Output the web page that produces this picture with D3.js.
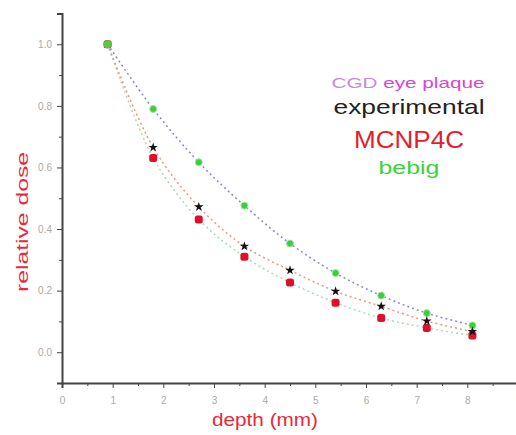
<!DOCTYPE html>
<html>
<head>
<meta charset="utf-8">
<script src="https://cdn.jsdelivr.net/npm/d3@7"></script>
<style>
  body { margin: 0; background: #fff; }
  svg { display: block; font-family: "Liberation Sans", Arial, sans-serif; }
  .axis path, .axis line { stroke: #444; }
  .axis text { fill: #aaa; font-size: 10px; }
</style>
</head>
<body>
<div id="chart"></div>
<script>
// depth (mm) of each measurement
const depth = [0.9, 1.8, 2.7, 3.6, 4.5, 5.4, 6.3, 7.2, 8.1];
// relative dose per series
const bebig = [1.0, 0.79, 0.617, 0.476, 0.353, 0.257, 0.184, 0.127, 0.087];
const experimental = [1.0, 0.665, 0.472, 0.344, 0.266, 0.198, 0.149, 0.101, 0.067];
const mcnp4c = [1.0, 0.631, 0.431, 0.31, 0.226, 0.161, 0.111, 0.079, 0.054];

const xTicks = [0, 1, 2, 3, 4, 5, 6, 7, 8, 9];
const xMinor = [0.5, 1.5, 2.5, 3.5, 4.5, 5.5, 6.5, 7.5, 8.5];
const yTicks = [0.0, 0.2, 0.4, 0.6, 0.8, 1.0];
const yMinor = [0.1, 0.3, 0.5, 0.7, 0.9, 1.1];

const legendLabels = ["experimental", "MCNP4C", "bebig"];

let width = 516, height = 435;

let svg = d3.select("#chart")
    .append("svg")
    .attr("width", width)
    .attr("height", height);

let xScale = d3.scaleLinear().domain([0, 9]).range([62, 518]);
let yScale = d3.scaleLinear().domain([-0.1, 1.1]).range([383, 13.5]);

// dotted fit-like lines
let line = d3.line()
    .x(d => xScale(d[0]))
    .y(d => yScale(d[1]))
    .curve(d3.curveCatmullRom);

function series(vals) {
    return depth.map((d, i) => [d, vals[i]]);
}

svg.append("path")
    .attr("fill", "none")
    .attr("stroke", "#a8dcb4")
    .attr("stroke-width", 1.5)
    .attr("stroke-dasharray", "2,3")
    .attr("d", line(series(mcnp4c)));

svg.append("path")
    .attr("fill", "none")
    .attr("stroke", "#f0967a")
    .attr("stroke-width", 1.5)
    .attr("stroke-dasharray", "2,3")
    .attr("d", line(series(experimental)));

svg.append("path")
    .attr("fill", "none")
    .attr("stroke", "#8a8ad0")
    .attr("stroke-width", 1.5)
    .attr("stroke-dasharray", "2,3")
    .attr("d", line(series(bebig)));

// axes
let xAxis = svg.append("g")
    .attr("class", "axis")
    .attr("transform", "translate(0," + yScale(-0.1) + ")")
    .call(d3.axisBottom(xScale).tickValues(xTicks).tickFormat(d3.format("d"))
        .tickSize(5).tickPadding(9));
xAxis.select(".domain").attr("stroke-width", 2);

svg.append("g")
    .attr("class", "axis")
    .attr("transform", "translate(0," + yScale(-0.1) + ")")
    .call(d3.axisBottom(xScale).tickValues(xMinor).tickFormat("").tickSize(3))
    .select(".domain").remove();

let yAxis = svg.append("g")
    .attr("class", "axis")
    .attr("transform", "translate(" + xScale(0) + ",0)")
    .call(d3.axisLeft(yScale).tickValues(yTicks).tickFormat(d3.format(".1f"))
        .tickSize(5).tickPadding(5));
yAxis.select(".domain").attr("stroke-width", 2);

svg.append("g")
    .attr("class", "axis")
    .attr("transform", "translate(" + xScale(0) + ",0)")
    .call(d3.axisLeft(yScale).tickValues(yMinor).tickFormat("").tickSize(3))
    .select(".domain").remove();

// markers
svg.append("g").selectAll("circle")
    .data(series(bebig))
    .join("circle")
    .attr("cx", d => xScale(d[0]))
    .attr("cy", d => yScale(d[1]))
    .attr("r", 3.5)
    .attr("fill", "#3ccc3c")
    .attr("stroke", "#9ee89e")
    .attr("stroke-width", 1);

svg.append("g").selectAll("rect")
    .data(series(mcnp4c))
    .join("rect")
    .attr("x", d => xScale(d[0]) - 4)
    .attr("y", d => yScale(d[1]) - 4)
    .attr("width", 8)
    .attr("height", 8)
    .attr("rx", 2.5)
    .attr("fill", "#e0102c");

svg.append("g").selectAll("path")
    .data(series(experimental).slice(1))
    .join("path")
    .attr("transform", d => "translate(" + xScale(d[0]) + "," + yScale(d[1]) + ")")
    .attr("d", d3.symbol(d3.symbolStar, 28))
    .attr("fill", "#111");

// redraw first green point on top (all series coincide there)
svg.append("circle")
    .attr("cx", xScale(depth[0]))
    .attr("cy", yScale(bebig[0]))
    .attr("r", 4)
    .attr("fill", "#5cc83c");

// axis titles
svg.append("text")
    .attr("x", 265)
    .attr("y", 426)
    .attr("text-anchor", "middle")
    .attr("fill", "#e8283c")
    .attr("font-size", 18)
    .attr("textLength", 106)
    .attr("lengthAdjust", "spacingAndGlyphs")
    .text("depth (mm)");

svg.append("text")
    .attr("transform", "translate(28,222) rotate(-90)")
    .attr("text-anchor", "middle")
    .attr("fill", "#e8283c")
    .attr("font-size", 17)
    .attr("textLength", 140)
    .attr("lengthAdjust", "spacingAndGlyphs")
    .text("relative dose");

// legend
let lg = svg.append("text")
    .attr("x", 408)
    .attr("y", 88)
    .attr("text-anchor", "middle")
    .attr("font-size", 15)
    .attr("textLength", 153)
    .attr("lengthAdjust", "spacingAndGlyphs");
lg.append("tspan").attr("fill", "#c888e8").text("CGD ");
lg.append("tspan").attr("fill", "#d844d8").text("eye plaque");

const legendStyle = [
    {y: 114, size: 21, len: 151, color: "#222"},
    {y: 148, size: 23, len: 110, color: "#e41e2c"},
    {y: 174, size: 19, len: 61, color: "#3cd23c"}
];

legendLabels.forEach((t, i) => {
    svg.append("text")
        .attr("x", 409)
        .attr("y", legendStyle[i].y)
        .attr("text-anchor", "middle")
        .attr("font-size", legendStyle[i].size)
        .attr("textLength", legendStyle[i].len)
        .attr("lengthAdjust", "spacingAndGlyphs")
        .attr("fill", legendStyle[i].color)
        .text(t);
});
</script>
</body>
</html>
